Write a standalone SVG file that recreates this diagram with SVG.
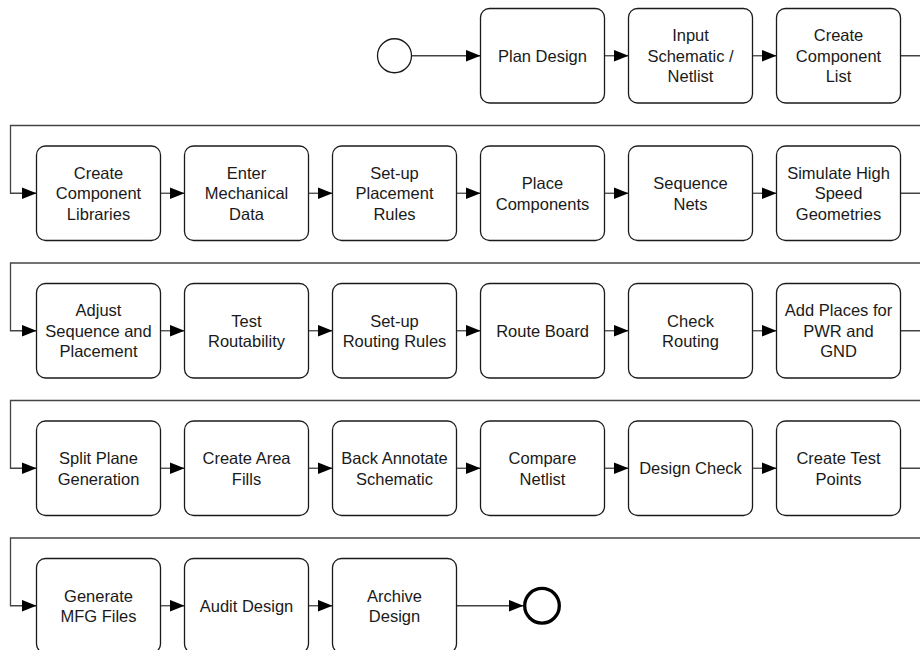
<svg xmlns="http://www.w3.org/2000/svg" width="920" height="650" viewBox="0 0 920 650">
  <style>
    .task rect { fill: #ffffff; stroke: #1a1a1a; stroke-width: 1.3; }
    .task text { font-family: "Liberation Sans", Arial, Helvetica, sans-serif; font-size: 16.5px; fill: #1a1a1a; text-anchor: middle; }
    .flow { fill: none; stroke: #444444; stroke-width: 1.3; marker-end: url(#block); }
    .start { fill: #ffffff; stroke: #1a1a1a; stroke-width: 1.3; }
    .end { fill: #ffffff; stroke: #000000; stroke-width: 3.3; }
  </style>
  <defs>
    <marker id="block" markerUnits="userSpaceOnUse" markerWidth="16" markerHeight="13" refX="15" refY="6" orient="auto">
      <path d="M0,0 L15,6 L0,12 Z" fill="#000000"/>
    </marker>
  </defs>
  <rect width="920" height="650" fill="#ffffff"/>

  <!-- sequence flows -->
  <g id="connectors">
    <!-- row 1 -->
    <path class="flow" d="M411.5,55.75 H480.5"/>
    <path class="flow" d="M604.5,55.75 H628.5"/>
    <path class="flow" d="M752.5,55.75 H776.5"/>
    <path class="flow" d="M900.5,55.75 H930 V125.5 H10.5 V193.25 H36.5"/>
    <!-- row 2 -->
    <path class="flow" d="M160.5,193.25 H184.5"/>
    <path class="flow" d="M308.5,193.25 H332.5"/>
    <path class="flow" d="M456.5,193.25 H480.5"/>
    <path class="flow" d="M604.5,193.25 H628.5"/>
    <path class="flow" d="M752.5,193.25 H776.5"/>
    <path class="flow" d="M900.5,193.25 H930 V263 H10.5 V330.75 H36.5"/>
    <!-- row 3 -->
    <path class="flow" d="M160.5,330.75 H184.5"/>
    <path class="flow" d="M308.5,330.75 H332.5"/>
    <path class="flow" d="M456.5,330.75 H480.5"/>
    <path class="flow" d="M604.5,330.75 H628.5"/>
    <path class="flow" d="M752.5,330.75 H776.5"/>
    <path class="flow" d="M900.5,330.75 H930 V400.5 H10.5 V468.25 H36.5"/>
    <!-- row 4 -->
    <path class="flow" d="M160.5,468.25 H184.5"/>
    <path class="flow" d="M308.5,468.25 H332.5"/>
    <path class="flow" d="M456.5,468.25 H480.5"/>
    <path class="flow" d="M604.5,468.25 H628.5"/>
    <path class="flow" d="M752.5,468.25 H776.5"/>
    <path class="flow" d="M900.5,468.25 H930 V538 H10.5 V605.75 H36.5"/>
    <!-- row 5 -->
    <path class="flow" d="M160.5,605.75 H184.5"/>
    <path class="flow" d="M308.5,605.75 H332.5"/>
    <path class="flow" d="M456.5,605.75 H523.5"/>
  </g>

  <!-- events -->
  <g id="start-event"><circle class="start" cx="394.5" cy="55.75" r="17"/></g>
  <g id="end-event"><circle class="end" cx="542" cy="605.75" r="17.3"/></g>

  <!-- row 1 -->
  <g id="plan-design" class="task"><rect x="480.5" y="8.5" width="124" height="94.5" rx="9"/>
    <text x="542.5" y="61.75">Plan Design</text></g>
  <g id="input-schematic" class="task"><rect x="628.5" y="8.5" width="124" height="94.5" rx="9"/>
    <text x="690.5" y="41.25">Input</text><text x="690.5" y="61.75">Schematic /</text><text x="690.5" y="82.25">Netlist</text></g>
  <g id="create-component-list" class="task"><rect x="776.5" y="8.5" width="124" height="94.5" rx="9"/>
    <text x="838.5" y="41.25">Create</text><text x="838.5" y="61.75">Component</text><text x="838.5" y="82.25">List</text></g>

  <!-- row 2 -->
  <g id="create-component-libraries" class="task"><rect x="36.5" y="146" width="124" height="94.5" rx="9"/>
    <text x="98.5" y="178.75">Create</text><text x="98.5" y="199.25">Component</text><text x="98.5" y="219.75">Libraries</text></g>
  <g id="enter-mechanical-data" class="task"><rect x="184.5" y="146" width="124" height="94.5" rx="9"/>
    <text x="246.5" y="178.75">Enter</text><text x="246.5" y="199.25">Mechanical</text><text x="246.5" y="219.75">Data</text></g>
  <g id="setup-placement-rules" class="task"><rect x="332.5" y="146" width="124" height="94.5" rx="9"/>
    <text x="394.5" y="178.75">Set-up</text><text x="394.5" y="199.25">Placement</text><text x="394.5" y="219.75">Rules</text></g>
  <g id="place-components" class="task"><rect x="480.5" y="146" width="124" height="94.5" rx="9"/>
    <text x="542.5" y="189">Place</text><text x="542.5" y="209.5">Components</text></g>
  <g id="sequence-nets" class="task"><rect x="628.5" y="146" width="124" height="94.5" rx="9"/>
    <text x="690.5" y="189">Sequence</text><text x="690.5" y="209.5">Nets</text></g>
  <g id="simulate-high-speed" class="task"><rect x="776.5" y="146" width="124" height="94.5" rx="9"/>
    <text x="838.5" y="178.75">Simulate High</text><text x="838.5" y="199.25">Speed</text><text x="838.5" y="219.75">Geometries</text></g>

  <!-- row 3 -->
  <g id="adjust-sequence" class="task"><rect x="36.5" y="283.5" width="124" height="94.5" rx="9"/>
    <text x="98.5" y="316.25">Adjust</text><text x="98.5" y="336.75">Sequence and</text><text x="98.5" y="357.25">Placement</text></g>
  <g id="test-routability" class="task"><rect x="184.5" y="283.5" width="124" height="94.5" rx="9"/>
    <text x="246.5" y="326.5">Test</text><text x="246.5" y="347">Routability</text></g>
  <g id="setup-routing-rules" class="task"><rect x="332.5" y="283.5" width="124" height="94.5" rx="9"/>
    <text x="394.5" y="326.5">Set-up</text><text x="394.5" y="347">Routing Rules</text></g>
  <g id="route-board" class="task"><rect x="480.5" y="283.5" width="124" height="94.5" rx="9"/>
    <text x="542.5" y="336.75">Route Board</text></g>
  <g id="check-routing" class="task"><rect x="628.5" y="283.5" width="124" height="94.5" rx="9"/>
    <text x="690.5" y="326.5">Check</text><text x="690.5" y="347">Routing</text></g>
  <g id="add-planes" class="task"><rect x="776.5" y="283.5" width="124" height="94.5" rx="9"/>
    <text x="838.5" y="316.25">Add Places for</text><text x="838.5" y="336.75">PWR and</text><text x="838.5" y="357.25">GND</text></g>

  <!-- row 4 -->
  <g id="split-plane" class="task"><rect x="36.5" y="421" width="124" height="94.5" rx="9"/>
    <text x="98.5" y="464">Split Plane</text><text x="98.5" y="484.5">Generation</text></g>
  <g id="create-area-fills" class="task"><rect x="184.5" y="421" width="124" height="94.5" rx="9"/>
    <text x="246.5" y="464">Create Area</text><text x="246.5" y="484.5">Fills</text></g>
  <g id="back-annotate" class="task"><rect x="332.5" y="421" width="124" height="94.5" rx="9"/>
    <text x="394.5" y="464">Back Annotate</text><text x="394.5" y="484.5">Schematic</text></g>
  <g id="compare-netlist" class="task"><rect x="480.5" y="421" width="124" height="94.5" rx="9"/>
    <text x="542.5" y="464">Compare</text><text x="542.5" y="484.5">Netlist</text></g>
  <g id="design-check" class="task"><rect x="628.5" y="421" width="124" height="94.5" rx="9"/>
    <text x="690.5" y="474.25">Design Check</text></g>
  <g id="create-test-points" class="task"><rect x="776.5" y="421" width="124" height="94.5" rx="9"/>
    <text x="838.5" y="464">Create Test</text><text x="838.5" y="484.5">Points</text></g>

  <!-- row 5 -->
  <g id="generate-mfg-files" class="task"><rect x="36.5" y="558.5" width="124" height="94.5" rx="9"/>
    <text x="98.5" y="601.5">Generate</text><text x="98.5" y="622">MFG Files</text></g>
  <g id="audit-design" class="task"><rect x="184.5" y="558.5" width="124" height="94.5" rx="9"/>
    <text x="246.5" y="611.75">Audit Design</text></g>
  <g id="archive-design" class="task"><rect x="332.5" y="558.5" width="124" height="94.5" rx="9"/>
    <text x="394.5" y="601.5">Archive</text><text x="394.5" y="622">Design</text></g>
</svg>
